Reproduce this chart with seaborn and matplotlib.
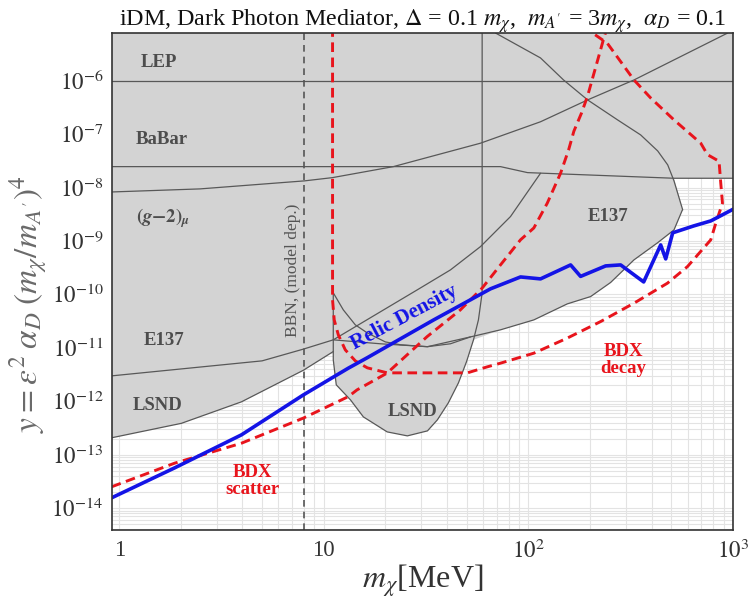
import numpy as np
import pandas as pd
import matplotlib
matplotlib.use("Agg")
import matplotlib.pyplot as plt
import seaborn as sns
from matplotlib.ticker import LogLocator, NullFormatter

# ---------------- data ----------------
# Relic density target (blue)
relic_m = [0.918, 1.867, 3.955, 7.93, 13.17, 16.26, 34.43, 65.26, 91.5, 114.6, 160.8, 179.9,
           238.5, 282.4, 366.0, 443.2, 469.0, 507.4, 642.8, 778.9, 1009]
relic_y = [1.56e-14, 5.68e-14, 2.35e-13, 1.31e-12, 4.16e-12, 6.49e-12, 3.33e-11, 1.27e-10,
           2.12e-10, 1.95e-10, 3.56e-10, 2.17e-10, 3.41e-10, 3.56e-10, 1.71e-10, 8.43e-10,
           4.61e-10, 1.42e-9, 1.91e-9, 2.37e-9, 3.98e-9]

# BDX scatter (red dashed)
scat_m = [0.918, 1.867, 3.955, 7.93, 13.17, 14.52, 20.37, 31.97, 46.5, 59.41, 73.03, 91.5,
          106.3, 123.6, 143.6, 157.2, 166.8, 181.9, 194.7, 217.3, 233.9, 243.9]
scat_y = [2.51e-14, 6.95e-14, 1.64e-13, 4.83e-13, 1.22e-12, 1.63e-12, 3.36e-12, 1.62e-11,
          5.13e-11, 1.31e-10, 3.56e-10, 1.05e-9, 1.75e-9, 5.08e-9, 1.85e-8, 5.05e-8, 1.13e-7,
          2.49e-7, 5.18e-7, 2.31e-6, 6.30e-6, 1.05e-5]

# BDX decay (red dashed, U shaped)
decay_m = [11.03, 11.03, 11.24, 11.77, 12.73, 14.25, 16.31, 20.43, 50.33, 62.86, 73.03, 91.5,
           106.3, 154.9, 225.4, 328.0, 478.1, 598.9, 719.8, 778.9, 824.0, 888.5, 871.7, 855.1,
           750.5, 695.8, 514.9, 396.0, 328.1, 243.1, 201.4, 192.5]
decay_y = [1e-5, 7.89e-11, 3.33e-11, 1.75e-11, 9.16e-12, 5.70e-12, 4.22e-12, 3.40e-12, 3.40e-12,
           4.40e-12, 5.16e-12, 6.68e-12, 7.94e-12, 1.52e-11, 3.10e-11, 6.84e-11, 1.62e-10,
           3.31e-10, 7.41e-10, 1.05e-9, 2.15e-9, 5.08e-9, 1.20e-8, 3.10e-8, 4.12e-8, 6.75e-8,
           1.84e-7, 4.74e-7, 1.03e-6, 5.01e-6, 8.26e-6, 1.05e-5]

# Excluded region (union, grey fill)
excl_m = [0.85, 2.011, 3.955, 7.93, 11.12, 11.12, 11.5, 13.5, 15.6, 20.4, 25.6, 32.1, 35.9,
          40.6, 45.5, 49.8, 53.9, 73.0, 106.3, 154.9, 201.4, 252.3, 328.1, 427.1, 514.9, 566.0,
          514.9, 1100, 1100, 0.85]
excl_y = [1.95e-13, 3.86e-13, 9.75e-13, 3.79e-12, 8.51e-12, 5.94e-12, 2.03e-12, 1.06e-12,
          5.1e-13, 2.67e-13, 2.25e-13, 2.79e-13, 4.49e-13, 9.33e-13, 2.21e-12, 5.47e-12,
          1.41e-11, 2.17e-11, 3.33e-11, 6.64e-11, 9.10e-11, 1.67e-10, 4.42e-10, 9.19e-10,
          1.61e-9, 3.81e-9, 1.49e-8, 1.49e-8, 1e-5, 1e-5]

# Individual experiment boundaries
lep_m, lep_y = [0.85, 1100], [1e-6, 1e-6]
babar_m = [0.85, 73.0, 99.0, 514.9, 1100]
babar_y = [2.46e-8, 2.46e-8, 1.90e-8, 1.49e-8, 1.49e-8]
gm2_m = [0.85, 2.48, 8.02, 11.0, 21.86, 58.29, 114.6, 194.7, 328.1, 943]
gm2_y = [8.17e-9, 9.42e-9, 1.33e-8, 1.53e-8, 2.46e-8, 6.75e-8, 1.70e-7, 4.36e-7, 1.03e-6, 7.80e-6]
e137u_m = [69.0, 114.6, 148.5, 194.7, 273.0, 353.8, 428.5, 479.7, 514.9, 567.9]
e137u_y = [7.80e-6, 2.66e-6, 1.03e-6, 4.36e-7, 1.84e-7, 9.64e-8, 4.84e-8, 2.65e-8, 1.33e-8, 3.81e-9]
e137l_m = [11.12, 18.89, 32.1, 52.07, 73.0, 106.3, 154.9, 201.4, 252.3, 328.1, 427.1, 514.9, 566.0]
e137l_y = [1.41e-11, 1.19e-11, 1.05e-11, 1.60e-11, 2.17e-11, 3.33e-11, 6.64e-11, 9.10e-11,
           1.67e-10, 4.42e-10, 9.19e-10, 1.61e-9, 3.81e-9]
e137d_m = [0.85, 4.99, 7.93, 11.12, 28.56, 41.57, 58.29, 81.74, 114.6]
e137d_y = [2.90e-12, 5.70e-12, 9.44e-12, 1.41e-11, 1.21e-10, 2.87e-10, 7.83e-10, 2.86e-9, 1.85e-8]
lsndl_m = [0.85, 2.011, 3.955, 7.93, 11.12]
lsndl_y = [1.95e-13, 3.86e-13, 9.75e-13, 3.79e-12, 8.51e-12]
lsndb_m = [59.41, 59.41, 56.97, 53.9, 49.8, 45.5, 40.6, 35.9, 32.1, 25.6, 20.4, 15.6, 13.5,
           11.5, 11.12, 11.12]
lsndb_y = [1e-5, 1.07e-10, 3.33e-11, 1.41e-11, 5.47e-12, 2.21e-12, 9.33e-13, 4.49e-13,
           2.79e-13, 2.25e-13, 2.67e-13, 5.1e-13, 1.06e-12, 2.03e-12, 5.94e-12, 1.07e-10]
lsndt_m = [11.12, 12.45, 14.25, 16.31, 19.98, 23.66, 32.1, 41.57, 52.07]
lsndt_y = [1.07e-10, 5.13e-11, 2.69e-11, 1.90e-11, 1.29e-11, 1.14e-11, 1.05e-11, 1.19e-11, 1.60e-11]

bbn_m = 8.0

x_ticks = [1, 10, 100, 1000]
x_ticklabels = ["1", "10", r"$10^2$", r"$10^3$"]
y_ticks = [1e-14, 1e-13, 1e-12, 1e-11, 1e-10, 1e-9, 1e-8, 1e-7, 1e-6]
y_ticklabels = [r"$10^{-14}$", r"$10^{-13}$", r"$10^{-12}$", r"$10^{-11}$", r"$10^{-10}$",
                r"$10^{-9}$", r"$10^{-8}$", r"$10^{-7}$", r"$10^{-6}$"]

title = r"iDM, Dark Photon Mediator, $\Delta$ = 0.1 $m_\chi$,  $m_{A'}$ = 3$m_\chi$,  $\alpha_D$ = 0.1"

# ---------------- style ----------------
sns.set_theme(style="white")
plt.rcParams["font.family"] = ["Liberation Serif", "DejaVu Serif"]
plt.rcParams["mathtext.fontset"] = "stix"

fig = plt.figure(figsize=(7.5, 6.05), dpi=100)
ax = fig.add_axes([0.1489, 0.124, 0.8284, 0.8215])
ax.set_xscale("log")
ax.set_yscale("log")
ax.set_xlim(0.918, 1000)
ax.set_ylim(3.9e-15, 7.8e-6)

# grid (only visible in white area)
ax.set_axisbelow(True)
ax.xaxis.set_minor_locator(LogLocator(base=10, subs=np.arange(2, 10), numticks=100))
ax.yaxis.set_minor_locator(LogLocator(base=10, subs=np.arange(2, 10), numticks=100))
ax.xaxis.set_minor_formatter(NullFormatter())
ax.yaxis.set_minor_formatter(NullFormatter())
ax.grid(True, which="both", color="#e3e3e3", lw=0.8)

# excluded region
ax.fill(excl_m, excl_y, color="#d3d3d3", lw=0, zorder=1)

bcol = "#585858"
blw = 0.9
for mx, yy in [(lep_m, lep_y), (babar_m, babar_y), (gm2_m, gm2_y), (e137u_m, e137u_y),
               (e137l_m, e137l_y), (e137d_m, e137d_y), (lsndl_m, lsndl_y),
               (lsndb_m, lsndb_y), (lsndt_m, lsndt_y)]:
    sns.lineplot(x=mx, y=yy, sort=False, estimator=None, ax=ax, color=bcol, lw=blw, zorder=2)

ax.axvline(bbn_m, color="#555555", lw=1.2, ls=(0, (4, 3)), zorder=3)

red = "#e8141c"
sns.lineplot(x=scat_m, y=scat_y, sort=False, estimator=None, ax=ax, color=red, lw=2.1,
             linestyle=(0, (3.3, 1.9)), zorder=4)
sns.lineplot(x=decay_m, y=decay_y, sort=False, estimator=None, ax=ax, color=red, lw=2.1,
             linestyle=(0, (3.3, 1.9)), zorder=4)
sns.lineplot(x=relic_m, y=relic_y, sort=False, estimator=None, ax=ax, color="#1414e6", lw=2.6,
             zorder=5)

# labels on regions
tcol = "#4d4d4d"
fs = 13.5
ax.text(1.564, 2.14e-6, "LEP", color=tcol, fontsize=fs, fontweight="bold", ha="center", va="center")
ax.text(1.618, 7.78e-8, "BaBar", color=tcol, fontsize=fs, fontweight="bold", ha="center", va="center")
ax.text(1.637, 2.70e-9, r"$\mathbf{(}\boldsymbol{g}\mathbf{-2)}_{\boldsymbol{\mu}}$", color=tcol,
        fontsize=fs, ha="center", va="center")
ax.text(1.655, 1.35e-11, "E137", color=tcol, fontsize=fs, fontweight="bold", ha="center", va="center")
ax.text(1.531, 8.2e-13, "LSND", color=tcol, fontsize=fs, fontweight="bold", ha="center", va="center")
ax.text(27.1, 6.34e-13, "LSND", color=tcol, fontsize=fs, fontweight="bold", ha="center", va="center")
ax.text(245.3, 2.82e-9, "E137", color=tcol, fontsize=fs, fontweight="bold", ha="center", va="center")
ax.text(24.7, 3.63e-11, "Relic Density", color="#1414e6", fontsize=15, fontweight="bold",
        ha="center", va="center", rotation=28, rotation_mode="anchor")
ax.text(4.47, 3.24e-14, "BDX\nscatter", color=red, fontsize=13.5, fontweight="bold",
        ha="center", va="center", linespacing=0.95)
ax.text(292.2, 5.95e-12, "BDX\ndecay", color=red, fontsize=13.5, fontweight="bold",
        ha="center", va="center", linespacing=0.95)
ax.text(7.09, 2.86e-10, "BBN, (model dep.)", color="#555555", fontsize=12.5, rotation=90,
        ha="center", va="center")

# axes styling
ax.set_xticks(x_ticks)
ax.set_xticklabels(x_ticklabels)
ax.set_yticks(y_ticks)
ax.set_yticklabels(y_ticklabels)
ax.tick_params(axis="both", which="major", direction="in", length=5, width=1, color="#333333",
               labelsize=16.5, labelcolor="#333333", pad=6)
ax.tick_params(axis="both", which="minor", length=0)
ax.tick_params(axis="x", pad=7)
for sp in ax.spines.values():
    sp.set_color("#333333")
    sp.set_linewidth(1.2)
    sp.set_zorder(10)

ax.set_xlabel(r"$m_\chi$[MeV]", fontsize=23, color="#333333", labelpad=0)
ax.set_ylabel(r"$y = \epsilon^2\;\alpha_D\;(m_\chi/m_{A'})^4$", fontsize=24, color="#6a6a6a")
ax.yaxis.set_label_coords(-0.1, 0.455)
ax.set_title(title, fontsize=17.3, color="#111111", pad=5)

fig.savefig("out.png", dpi=100)
